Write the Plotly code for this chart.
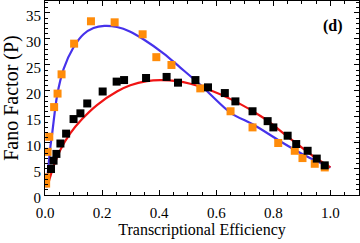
import plotly.graph_objects as go

# Orange squares (data set 1)
orange_x = [0.004, 0.004, 0.009, 0.015, 0.032, 0.044, 0.058, 0.102, 0.161, 0.244, 0.342, 0.390, 0.443,
            0.544, 0.650, 0.727, 0.817, 0.875, 0.902, 0.945, 0.980]
orange_y = [2.2, 3.4, 8.3, 11.2, 16.9, 19.5, 23.2, 29.1, 33.4, 33.2, 30.9, 26.5, 25.0,
            20.5, 16.1, 13.0, 10.0, 8.5, 7.1, 6.0, 5.3]

# Black squares (data set 2)
black_x = [0.021, 0.030, 0.040, 0.054, 0.074, 0.100, 0.124, 0.148, 0.202, 0.251, 0.277, 0.354, 0.426,
           0.466, 0.527, 0.571, 0.630, 0.667, 0.727, 0.780, 0.800, 0.850, 0.880, 0.920, 0.952, 0.980]
black_y = [5.0, 6.6, 7.9, 9.9, 11.8, 14.6, 15.7, 17.6, 19.9, 21.8, 22.1, 22.5, 22.7,
           21.6, 22.1, 20.7, 19.6, 18.0, 16.1, 14.2, 13.0, 11.4, 9.8, 8.5, 7.0, 5.7]

# Blue fitted curve
blue_x = [0.002, 0.007, 0.013, 0.019, 0.026, 0.042, 0.065, 0.100, 0.135, 0.170, 0.208, 0.252, 0.299,
          0.346, 0.416, 0.474, 0.544, 0.650, 0.731, 0.825, 0.918, 1.0]
blue_y = [1.5, 2.9, 6.1, 9.3, 12.2, 19.0, 24.2, 28.4, 30.9, 32.1, 32.5, 32.3, 31.4,
          29.9, 27.2, 24.5, 21.2, 15.8, 13.5, 10.3, 7.4, 5.3]

# Red fitted curve
red_x = [0.005, 0.013, 0.030, 0.054, 0.089, 0.130, 0.182, 0.252, 0.299, 0.357, 0.404, 0.463,
         0.509, 0.573, 0.667, 0.766, 0.860, 0.941, 1.0]
red_y = [1.5, 2.6, 5.5, 8.7, 11.9, 14.6, 17.3, 19.9, 21.1, 21.9, 22.1, 21.9,
         21.4, 20.3, 18.0, 14.8, 10.8, 7.4, 5.3]

FONT = "Liberation Serif"

fig = go.Figure()
fig.add_trace(go.Scatter(x=blue_x, y=blue_y, mode="lines", line=dict(color="rgb(70,50,235)", width=2.2, shape="spline", smoothing=0.8)))
fig.add_trace(go.Scatter(x=red_x, y=red_y, mode="lines", line=dict(color="rgb(240,20,20)", width=2.2, shape="spline", smoothing=0.8)))
fig.add_trace(go.Scatter(x=orange_x, y=orange_y, mode="markers",
                         marker=dict(symbol="square", size=8, color="rgb(255,140,10)", line=dict(width=0))))
fig.add_trace(go.Scatter(x=black_x, y=black_y, mode="markers",
                         marker=dict(symbol="square", size=8, color="black", line=dict(width=0))))

axis_common = dict(showline=True, linecolor="black", linewidth=1, mirror="allticks", ticks="inside",
                   ticklen=5, tickwidth=1, tickcolor="black", showgrid=False, zeroline=False,
                   tickfont=dict(family=FONT, size=15, color="black"))

fig.update_xaxes(range=[0, 1.1], tickvals=[0, 0.2, 0.4, 0.6, 0.8, 1.0],
                 ticktext=["0.0", "0.2", "0.4", "0.6", "0.8", "1.0"],
                 minor=dict(ticks="inside", dtick=0.05, tick0=0, ticklen=3, tickcolor="black"),
                 ticklabelstandoff=4,
                 title=dict(text="Transcriptional Efficiency", font=dict(family=FONT, size=16, color="black"), standoff=3),
                 **axis_common)
fig.update_yaxes(range=[0, 37.3], tickvals=[0, 5, 10, 15, 20, 25, 30, 35],
                 minor=dict(ticks="inside", dtick=1, tick0=0, ticklen=3, tickcolor="black"),
                 ticklabelshift=3,
                 title=dict(text="Fano Factor (P)", font=dict(family=FONT, size=20, color="black"), standoff=2),
                 **axis_common)

fig.add_annotation(text="<b>(d)</b>", x=0.955, y=0.93, xref="paper", yref="paper", showarrow=False,
                   font=dict(family=FONT, size=16, color="black"))

fig.update_layout(width=360, height=243, margin=dict(l=45, r=1, t=1, b=48),
                  paper_bgcolor="white", plot_bgcolor="white", showlegend=False)

fig.write_html("out.html", config={"displayModeBar": False},
               post_script="document.body.style.margin='0';")
